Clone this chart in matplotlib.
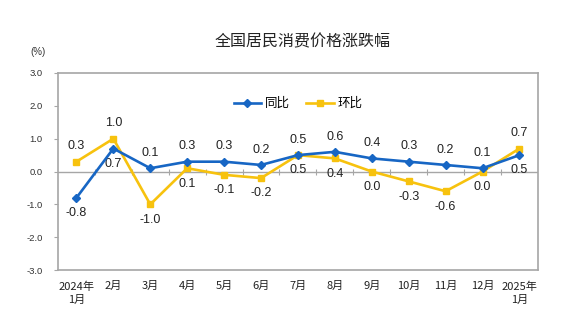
import numpy as np
import matplotlib
matplotlib.use("Agg")
from matplotlib import pyplot as plt

plt.rcParams['font.family'] = ['Noto Sans CJK SC', 'DejaVu Sans']

# 月份标签与两条序列
months = ['2024年\n1月', '2月', '3月', '4月', '5月', '6月', '7月', '8月',
          '9月', '10月', '11月', '12月', '2025年\n1月']
yoy = [-0.8, 0.7, 0.1, 0.3, 0.3, 0.2, 0.5, 0.6, 0.4, 0.3, 0.2, 0.1, 0.5]
mom = [0.3, 1.0, -1.0, 0.1, -0.1, -0.2, 0.5, 0.4, 0.0, -0.3, -0.6, 0.0, 0.7]

# 数据标签放在点的上方(1)或下方(-1)
yoy_side = [-1, -1, 1, 1, 1, 1, 1, 1, 1, 1, 1, 1, -1]
mom_side = [1, 1, -1, -1, -1, -1, -1, -1, -1, -1, -1, -1, 1]

blue = '#1766c4'
yellow = '#f7c20e'
gray = '#a6a6a6'

fig = plt.figure(figsize=(5.81, 3.31), dpi=100)
ax = fig.add_axes([0.0998, 0.184, 0.826, 0.5955])

x = np.arange(len(months))

ax.plot(x, yoy, color=blue, lw=1.9, marker='D', ms=4, label='同比', zorder=4)
ax.plot(x, mom, color=yellow, lw=1.9, marker='s', ms=4.5, label='环比', zorder=3)

# 零轴及分隔刻度
ax.axhline(0, color=gray, lw=1, zorder=1)
edges = np.arange(len(months) + 1) - 0.5
ax.plot(edges[1:-1], np.zeros(len(edges) - 2), ls='none', marker='|',
        ms=5, mew=0.8, color=gray, zorder=1)

for xs, vals, sides in [(x, yoy, yoy_side), (x, mom, mom_side)]:
    for xi, v, s in zip(xs, vals, sides):
        ax.annotate(f'{v:.1f}', (xi, v), xytext=(0, 11 * s),
                    textcoords='offset points', ha='center', va='center',
                    fontsize=9, family='Liberation Sans', color='#222222')

ax.set_xlim(-0.5, len(months) - 0.5)
ax.set_ylim(-3.0, 3.0)
ax.set_yticks(np.arange(-3, 3.1, 1.0))
ax.set_yticklabels([f'{t:.1f}' for t in np.arange(-3, 3.1, 1.0)],
                   fontsize=6.8, family='Liberation Sans', color='#333333')
ax.set_xticks(x)
ax.set_xticklabels(months, fontsize=8, color='#222222', linespacing=1.45,
                   va='top')
ax.tick_params(axis='x', length=0, pad=8)
ax.tick_params(axis='y', length=3, color=gray, direction='out', pad=8)

for sp in ax.spines.values():
    sp.set_color(gray)
    sp.set_linewidth(1.2)

ax.legend(loc='center', bbox_to_anchor=(0.5, 0.845), ncol=2, frameon=False,
          fontsize=9, handlelength=2.2, handletextpad=0.3, columnspacing=1.3)

fig.text(0.52, 0.875, '全国居民消费价格涨跌幅', ha='center', va='center',
         fontsize=11.5, color='#222222')
fig.text(0.066, 0.843, '(%)', ha='center', va='center', fontsize=7,
         family='Liberation Sans', color='#333333')

fig.savefig('out.png', dpi=100)
